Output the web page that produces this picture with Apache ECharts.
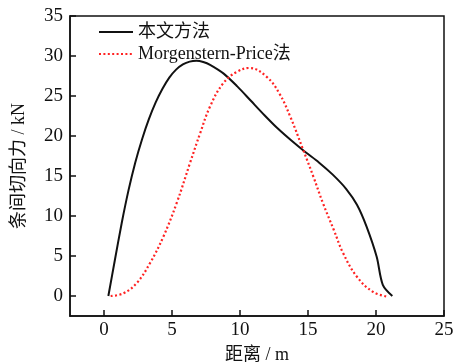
<!DOCTYPE html>
<html><head><meta charset="utf-8">
<script src="https://cdn.jsdelivr.net/npm/echarts@6/dist/echarts.min.js"></script>
<style>html,body{margin:0;padding:0;background:#fff}#c{width:456px;height:363px}</style>
</head><body><div id="c"></div>
<script>
const seriesNames = ['本文方法', 'Morgenstern-Price法'];
const xTicks = [0, 5, 10, 15, 20, 25];
const yTicks = [0, 5, 10, 15, 20, 25, 30, 35];
const oursX = [0.32, 0.8, 1.3, 1.8, 2.3, 2.8, 3.3, 3.8, 4.3, 4.8, 5.3, 5.8, 6.3, 6.8, 7.3, 7.8, 8.8, 9.8, 10.8, 11.8, 12.8, 13.8, 14.8, 15.8, 16.8, 17.8, 18.6, 19.3, 20.05, 20.5, 21.2];
const oursY = [0.0, 4.5, 9.1, 13.2, 16.7, 19.6, 22.1, 24.2, 25.9, 27.3, 28.3, 28.95, 29.3, 29.4, 29.25, 28.9, 27.8, 26.2, 24.4, 22.6, 20.9, 19.4, 18.0, 16.7, 15.2, 13.4, 11.4, 8.7, 4.9, 1.4, 0.0];
const mpX = [0.49, 1.42, 2.4, 3.38, 4.36, 5.34, 6.32, 7.06, 7.8, 8.77, 9.75, 10.7, 11.96, 12.9, 13.7, 14.65, 15.4, 16.1, 16.9, 17.6, 18.6, 19.8, 20.9];
const mpY = [0.0, 0.33, 1.6, 4.1, 7.4, 11.6, 16.6, 20.3, 23.7, 26.6, 28.0, 28.5, 27.4, 25.3, 22.4, 18.25, 14.9, 11.6, 8.25, 5.3, 2.4, 0.5, -0.1];

const font = '"Liberation Serif", "Noto Sans CJK SC", serif';
const zip = (a, b) => a.map((v, i) => [v, b[i]]);
const chart = echarts.init(document.getElementById('c'));
chart.setOption({
  animation: false,
  textStyle: { fontFamily: font },
  grid: { left: 70, top: 16, width: 374, height: 300, outerBoundsMode: 'none', containLabel: false, show: true, borderColor: '#111', borderWidth: 1.5, backgroundColor: 'transparent' },
  legend: {
    orient: 'vertical', left: 93, top: 18, itemWidth: 34, itemHeight: 12, itemGap: 4,
    itemStyle: { opacity: 0 },
    textStyle: { fontFamily: font, fontSize: 18, color: '#111' },
    data: seriesNames
  },
  xAxis: {
    type: 'value', min: -2.5, max: 25,
    name: '距离 / m', nameLocation: 'middle', nameGap: 30,
    nameTextStyle: { fontFamily: font, fontSize: 18, color: '#111' },
    axisLine: { show: true, onZero: false, lineStyle: { color: '#111', width: 1.5 } },
    axisTick: { show: true, inside: true, length: 6, customValues: xTicks, lineStyle: { color: '#111', width: 1.5 } },
    axisLabel: { customValues: xTicks, fontFamily: font, fontSize: 19, color: '#111', margin: 5 },
    splitLine: { show: false }
  },
  yAxis: {
    type: 'value', min: -2.5, max: 35,
    name: '条间切向力 / kN', nameLocation: 'middle', nameGap: 42,
    nameTextStyle: { fontFamily: font, fontSize: 18, color: '#111' },
    axisLine: { show: true, onZero: false, lineStyle: { color: '#111', width: 1.5 } },
    axisTick: { show: true, inside: true, length: 6, customValues: yTicks, lineStyle: { color: '#111', width: 1.5 } },
    axisLabel: { customValues: yTicks, fontFamily: font, fontSize: 19, color: '#111', margin: 7 },
    splitLine: { show: false }
  },
  series: [
    { name: seriesNames[0], type: 'line', data: zip(oursX, oursY), showSymbol: false, symbol: 'none', smooth: 0.3,
      lineStyle: { color: '#111', width: 2 }, itemStyle: { color: '#111' } },
    { name: seriesNames[1], type: 'line', data: zip(mpX, mpY), showSymbol: false, symbol: 'none', smooth: 0.4,
      lineStyle: { color: '#f22', width: 2.2, type: [2, 2.4] }, itemStyle: { color: '#f22' } }
  ]
});
</script></body></html>
